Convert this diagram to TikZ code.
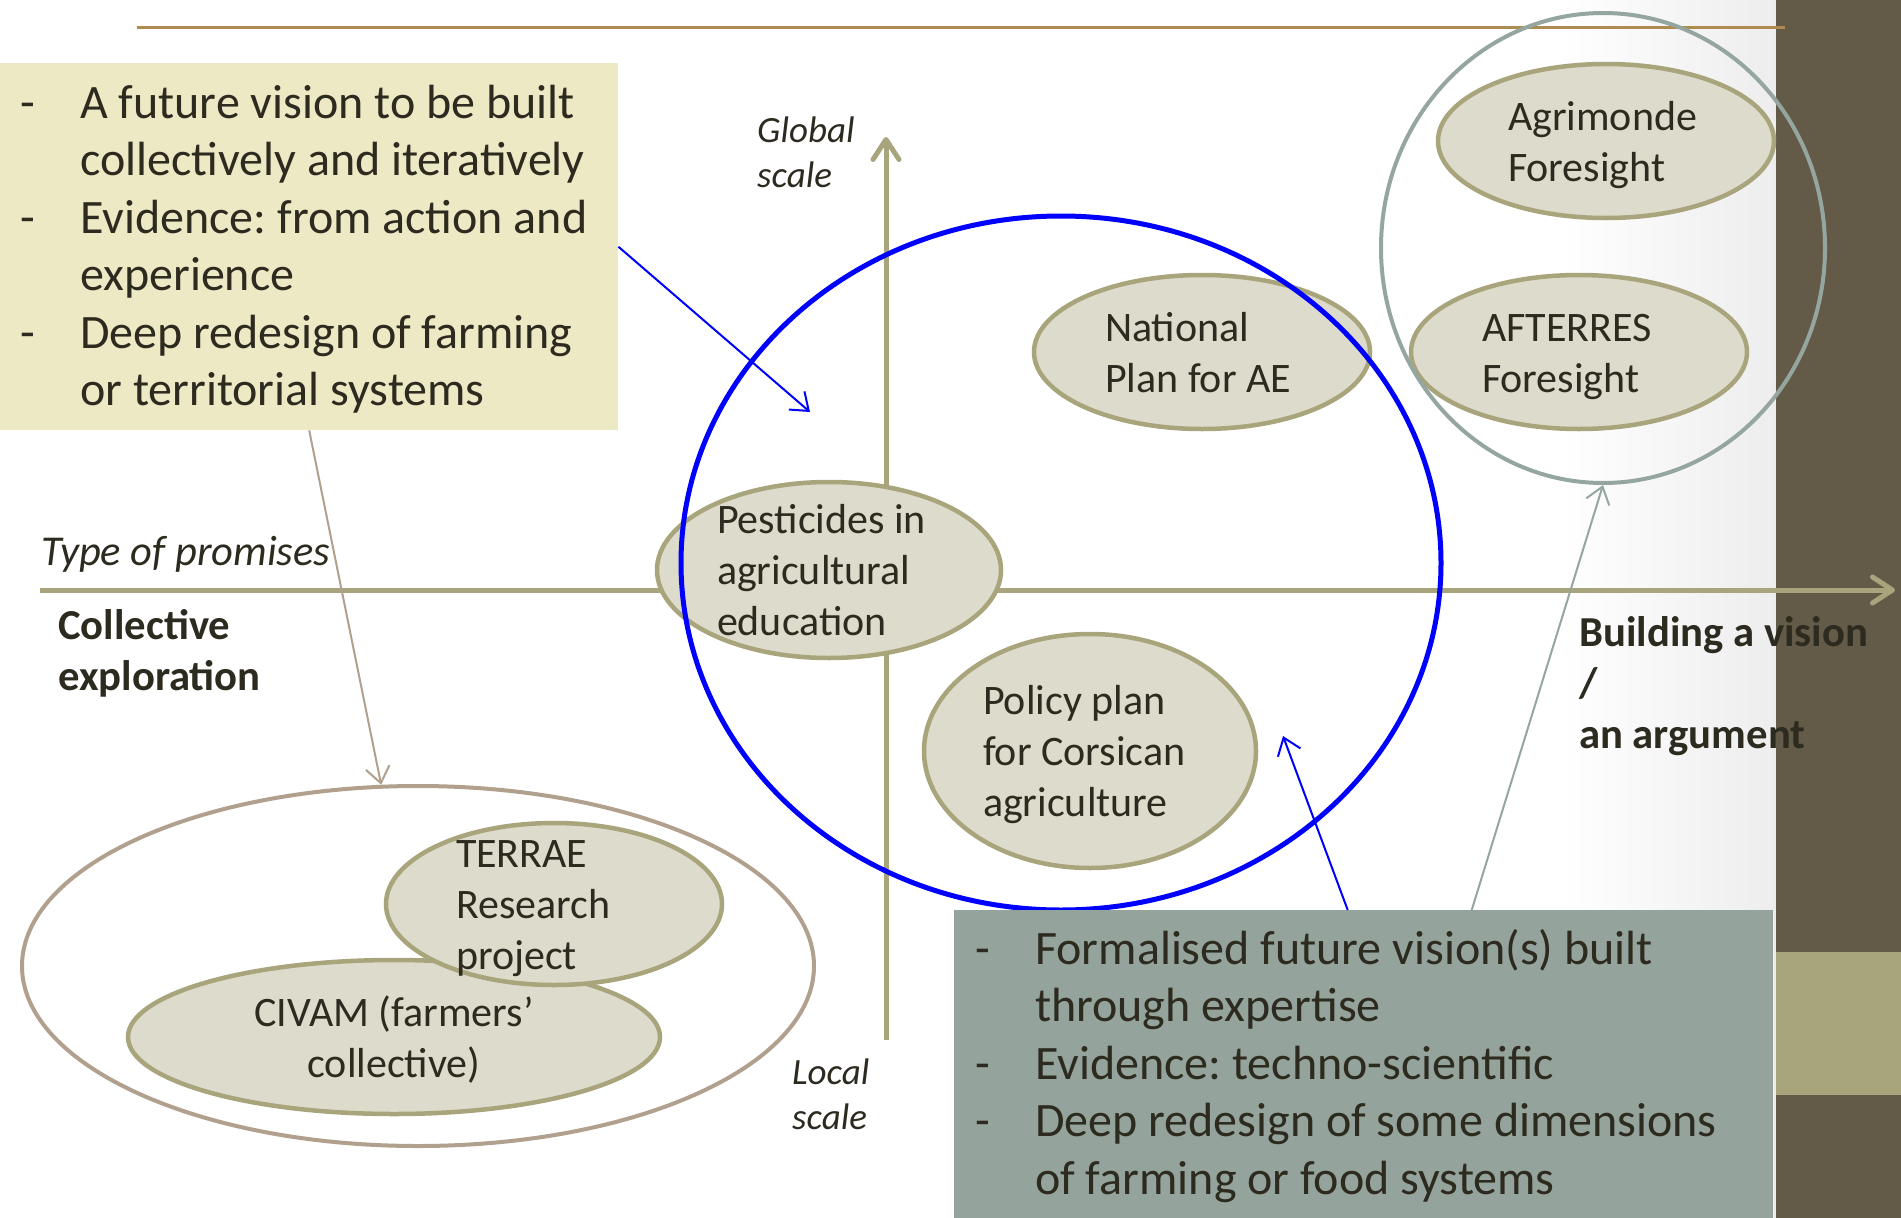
\documentclass[tikz,border=0pt]{standalone}
\usepackage{fontspec}
\setmainfont{Carlito}
\usepackage{xcolor}
\usepackage{tikz}
\usetikzlibrary{positioning, arrows.meta, shapes.geometric}
\pgfdeclarelayer{background}
\pgfsetlayers{background,main}

\definecolor{ink}{HTML}{2D2A1F}
\definecolor{khaki}{HTML}{A8A47C}
\definecolor{ovalfill}{HTML}{DDDBCB}
\definecolor{notefill}{HTML}{EDE9C5}
\definecolor{expertfill}{HTML}{94A39B}
\definecolor{stripdark}{HTML}{635B47}
\definecolor{rulebrown}{HTML}{B08B50}
\definecolor{foregray}{HTML}{95A6A0}
\definecolor{localbrown}{HTML}{B0A08D}

\newcommand{\notefont}{\fontsize{48}{57.5}\selectfont}
\newcommand{\ovalfont}{\fontsize{42}{51}\selectfont}
\newcommand{\axisfont}{\fontsize{42.7}{51}\selectfont\bfseries}
\newcommand{\scalefont}{\fontsize{37}{45}\selectfont\itshape}
\newcommand{\notedash}{\makebox[60pt][l]{-}}
\newcommand{\noteindent}{\hspace*{60pt}}

\begin{document}
\frenchspacing
\begin{tikzpicture}[x=1pt, y=-1pt, text=ink,
    oval/.style={ellipse, draw=khaki, line width=4.5pt, fill=ovalfill, inner sep=0pt, font=\ovalfont, align=flush left, text height=0pt},
    twolines/.style={text depth=21pt},
    threelines/.style={text depth=73pt},
    note/.style={anchor=north west, inner ysep=0pt, font=\notefont, align=flush left, text height=38pt},
    tag/.style={anchor=north west, inner sep=0pt, align=flush left},
    pointer/.style={line width=2pt, -{Straight Barb[length=16pt, width=24pt]}},
    axis/.style={draw=khaki, line width=5pt, -{Straight Barb[round, length=20pt, width=26pt]}}]

    \useasboundingbox (0,0) rectangle (1901,1218);

    \begin{pgfonlayer}{background}
        \fill[white] (0,0) rectangle (1901,1218);
        \shade[left color=white, right color=black!7] (1560,0) rectangle (1776,1218);
        \fill[stripdark] (1776,0) rectangle (1901,1218);
        \fill[khaki] (1776,952) rectangle (1901,1095);
        \draw[rulebrown, line width=3pt] (137,27) -- (1785,27);
    \end{pgfonlayer}

    \coordinate (promisesW) at (40,590);
    \coordinate (promisesE) at (1895,590);
    \coordinate (scaleS) at (886,1040);
    \coordinate (scaleN) at (886,137);
    \draw[axis] (promisesW) -- (promisesE);
    \draw[axis] (scaleS) -- (scaleN);

    \node[tag, font=\scalefont] (globallbl) at (757,117) {Global\\scale};
    \node[tag, font=\scalefont] (locallbl) at (792,1059) {Local\\scale};
    \node[tag, font=\fontsize{42.5}{50}\selectfont\itshape] (promiseslbl) at (41,536) {Type of promises};
    \node[tag, font=\axisfont] (explorelbl) at (58,609) {Collective\\exploration};
    \node[tag, font=\axisfont] (visionlbl) at (1579,616) {Building a vision\\/\\an argument};

    \node[ellipse, draw=localbrown, line width=4pt, minimum width=792pt, minimum height=360pt] (collective) at (418,966) {};
    \node[oval, twolines, align=flush center, minimum width=532pt, minimum height=154pt, text width=320pt] (civam) at (394,1037) {CIVAM (farmers'\\collective)};
    \node[oval, threelines, minimum width=336pt, minimum height=162pt, text width=196pt] (terrae) at (554,904) {TERRAE\\Research\\project};

    \node[oval, threelines, minimum width=344pt, minimum height=176pt, text width=224pt] (pesticides) at (829,570) {Pesticides in\\agricultural\\education};
    \node[oval, twolines, minimum width=336pt, minimum height=154pt, text width=194pt] (national) at (1202,352) {National\\Plan for AE};
    \node[oval, threelines, minimum width=332pt, minimum height=234pt, text width=214pt] (corsica) at (1090,751) {Policy plan\\for Corsican\\agriculture};
    \node[oval, twolines, minimum width=336pt, minimum height=154pt, text width=196pt] (agrimonde) at (1606,141) {Agrimonde\\Foresight};
    \node[oval, twolines, minimum width=336pt, minimum height=154pt, text width=194pt] (afterres) at (1579,352) {AFTERRES\\Foresight};

    \node[ellipse, draw=blue, line width=5pt, minimum width=760pt, minimum height=694pt] (promise) at (1061,563) {};
    \node[ellipse, draw=foregray, line width=4pt, minimum width=444pt, minimum height=470pt] (foresight) at (1603,248) {};

    \node[note, fill=notefill, inner xsep=20pt, text width=578pt, minimum height=367pt] (ybox) at (0,63) {%
        \notedash A future vision to be built\\
        \noteindent collectively and iteratively\\
        \notedash Evidence: from action and\\
        \noteindent experience\\
        \notedash Deep redesign of farming\\
        \noteindent or territorial systems};
    \node[note, fill=expertfill, inner xsep=21pt, text width=777pt, minimum height=308pt] (gbox) at (954,910) {%
        \notedash Formalised future vision(s) built\\
        \noteindent through expertise\\
        \notedash Evidence: techno-scientific\\
        \notedash Deep redesign of some dimensions\\
        \noteindent of farming or food systems};

    \coordinate (ytip) at (810,412);
    \coordinate (gtip) at (1283,736);
    \draw[pointer, blue] (ybox.east) -- (ytip);
    \draw[pointer, localbrown] (ybox.south) -- (collective);
    \draw[pointer, blue] ([xshift=-16pt]gbox.north) -- (gtip);
    \draw[pointer, foregray] ([xshift=108pt]gbox.north) -- (foresight.south);
\end{tikzpicture}
\end{document}
